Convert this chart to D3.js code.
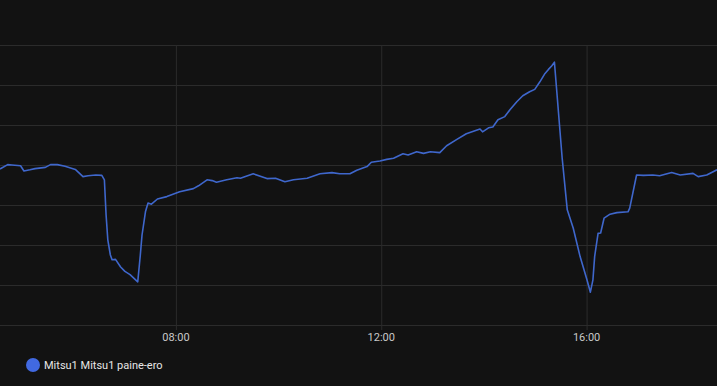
<!DOCTYPE html>
<html>
<head>
<meta charset="utf-8">
<script src="https://cdn.jsdelivr.net/npm/d3@7"></script>
<style>
  html, body { margin: 0; padding: 0; background: #121212; }
  svg { display: block; font-family: Roboto, "Noto Sans", sans-serif; }
</style>
</head>
<body>
<svg id="chart" width="717" height="386"></svg>
<script>
// series name shown in the legend
var seriesName = "Mitsu1 Mitsu1 paine-ero";

// sample times (same day) and readings
var times = [
  "04:35","04:44","04:49","04:59","05:03","05:10","05:16","05:28","05:34","05:42",
  "05:51","06:03","06:12","06:18","06:27","06:34","06:37","06:39","06:41","06:44",
  "06:46","06:50","06:56","07:01","07:07","07:11","07:16","07:19","07:21","07:25",
  "07:28","07:32","07:39","07:50","08:05","08:21","08:27","08:37","08:43","08:48",
  "09:00","09:12","09:16","09:31","09:47","09:57","10:08","10:18","10:34","10:49",
  "11:03","11:12","11:24","11:32","11:44","11:49","11:59","12:07","12:15","12:26",
  "12:32","12:42","12:50","12:58","13:09","13:17","13:29","13:40","13:56","13:59",
  "14:06","14:11","14:17","14:25","14:31","14:39","14:46","14:54","15:00","15:06",
  "15:12","15:16","15:20","15:23","15:32","15:38","15:45","15:53","16:01","16:05",
  "16:08","16:10","16:14","16:17","16:21","16:28","16:36","16:49","16:51","16:59",
  "17:07","17:18","17:26","17:40","17:50","18:05","18:11","18:21","18:33"
];
var values = [
  3.90,4.01,4.00,3.98,3.85,3.88,3.91,3.94,4.01,4.01,
  3.97,3.89,3.71,3.73,3.75,3.74,3.63,2.75,2.13,1.75,
  1.63,1.64,1.45,1.34,1.26,1.18,1.08,1.75,2.25,2.83,
  3.05,3.02,3.15,3.21,3.33,3.41,3.48,3.63,3.61,3.57,
  3.63,3.68,3.67,3.78,3.66,3.67,3.58,3.63,3.67,3.78,
  3.81,3.78,3.78,3.87,3.96,4.07,4.10,4.14,4.17,4.28,
  4.25,4.33,4.29,4.33,4.31,4.48,4.64,4.78,4.90,4.83,
  4.93,4.95,5.13,5.21,5.38,5.58,5.73,5.83,5.89,6.08,
  6.29,6.39,6.48,6.57,4.18,2.88,2.42,1.71,1.13,0.82,
  1.13,1.71,2.29,2.30,2.67,2.77,2.81,2.83,2.92,3.75,
  3.74,3.75,3.73,3.81,3.75,3.79,3.71,3.75,3.88
];
var timeDomain = ["04:35", "18:33"];
var valueDomain = [0, 7];

var parseTime = d3.timeParse("%Y-%m-%d %H:%M");
function toDate(s) { return parseTime("2024-01-01 " + s); }

var data = times.map(function(t, i) {
  return { t: toDate(t), v: values[i] };
});

var svg = d3.select("#chart");
var W = 717;
var plotTop = 45, plotBottom = 325;

var x = d3.scaleTime()
  .domain(timeDomain.map(toDate))
  .range([0, W]);

var y = d3.scaleLinear()
  .domain(valueDomain)
  .range([plotBottom, plotTop]);

// horizontal grid
svg.append("g")
  .selectAll("line")
  .data(y.ticks(7))
  .enter()
  .append("line")
  .attr("x1", 0)
  .attr("x2", W)
  .attr("y1", function(d) { return y(d) + 0.5; })
  .attr("y2", function(d) { return y(d) + 0.5; })
  .attr("stroke", "#2b2b2b")
  .attr("stroke-width", 1);

// x axis with vertical grid
var xAxis = d3.axisBottom(x)
  .ticks(d3.timeHour.every(4))
  .tickFormat(d3.timeFormat("%H:%M"))
  .tickSize(-(plotBottom - plotTop) - 5)
  .tickPadding(3);

var gx = svg.append("g")
  .attr("transform", "translate(0," + (plotBottom + 5) + ")")
  .call(xAxis);
gx.select(".domain").remove();
gx.selectAll(".tick line")
  .attr("stroke", "#2b2b2b")
  .attr("transform", "translate(0.5,0)");
gx.selectAll(".tick text")
  .attr("fill", "#c8c8c8")
  .attr("font-size", "11px")
  .attr("font-family", "Roboto, sans-serif");

// series line
var line = d3.line()
  .x(function(d) { return x(d.t); })
  .y(function(d) { return y(d.v); });

svg.append("path")
  .datum(data)
  .attr("d", line)
  .attr("fill", "none")
  .attr("stroke", "#3f67cc")
  .attr("stroke-width", 1.6)
  .attr("stroke-linejoin", "round");

// legend
var lg = svg.append("g").attr("transform", "translate(33,365)");
lg.append("circle")
  .attr("r", 7)
  .attr("fill", "#4169e1");
lg.append("text")
  .attr("x", 11)
  .attr("y", 4)
  .attr("fill", "#e6e6e6")
  .attr("font-size", "11px")
  .text(seriesName);
</script>
</body>
</html>
